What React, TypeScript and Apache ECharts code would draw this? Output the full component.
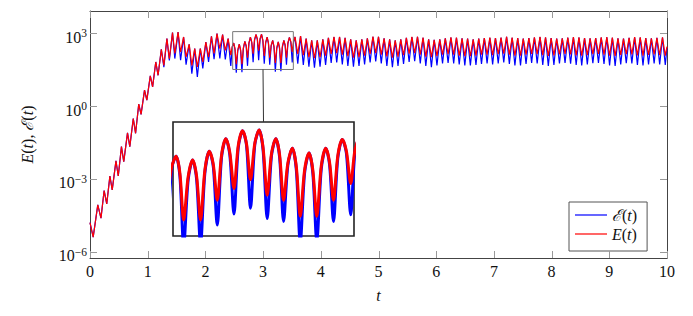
import React, { useEffect, useRef } from 'react';
import * as echarts from 'echarts';

// ---- data (log10 values) ----
const tStart = 0;
const logStart = -4.8;
const tEnd = 10;
const logEndE = 2.45;
const logEndCalE = 2.4;

const tPeaks = [
  0.135, 0.245, 0.345, 0.45, 0.545, 0.65, 0.75, 0.845, 0.945, 1.045,
  1.14, 1.236, 1.333, 1.43, 1.526, 1.622, 1.719, 1.815, 1.912, 2.008,
  2.105, 2.201, 2.298, 2.394, 2.491, 2.587, 2.684, 2.78, 2.877, 2.973,
  3.07, 3.166, 3.263, 3.36, 3.456,
  3.553, 3.649, 3.746, 3.842, 3.939, 4.035, 4.132, 4.228, 4.325, 4.421,
  4.518, 4.614, 4.711, 4.807, 4.904, 5.0, 5.097, 5.193, 5.29, 5.386,
  5.483, 5.579, 5.676, 5.772, 5.869, 5.965, 6.062, 6.158, 6.255, 6.351,
  6.448, 6.544, 6.641, 6.737, 6.834, 6.93, 7.027, 7.123, 7.22, 7.316,
  7.413, 7.509, 7.606, 7.702, 7.799, 7.895, 7.992, 8.088, 8.185, 8.281,
  8.378, 8.474, 8.571, 8.667, 8.764, 8.86, 8.957, 9.053, 9.15, 9.246,
  9.343, 9.439, 9.536, 9.632, 9.729, 9.825, 9.922,
];
const logPeaks = [
  -4.07, -3.48, -2.88, -2.26, -1.67, -1.1, -0.51, 0.08, 0.66, 1.25,
  1.82, 2.34, 2.78, 3.03, 3.05, 2.85, 2.55, 2.37, 2.37, 2.64,
  2.88, 2.99, 2.95, 2.78, 2.6, 2.55, 2.67, 2.84, 2.95, 2.96,
  2.84, 2.71, 2.645, 2.71, 2.83,
  2.85, 2.89, 2.78, 2.71, 2.71, 2.75, 2.81, 2.85, 2.85, 2.81,
  2.75, 2.71, 2.75, 2.79, 2.86, 2.86, 2.79, 2.75, 2.71, 2.75,
  2.81, 2.85, 2.86, 2.82, 2.75, 2.73, 2.75, 2.79, 2.83, 2.82,
  2.79, 2.78, 2.75, 2.78, 2.8, 2.82, 2.8, 2.82, 2.86, 2.82,
  2.8, 2.78, 2.8, 2.83, 2.85, 2.83, 2.8, 2.78, 2.79, 2.82,
  2.84, 2.83, 2.8, 2.79, 2.8, 2.83, 2.84, 2.82, 2.79, 2.78,
  2.81, 2.84, 2.83, 2.8, 2.79, 2.81, 2.83,
];
const tDips = [
  0.055, 0.19, 0.29, 0.385, 0.49, 0.585, 0.69, 0.79, 0.885, 0.985,
  1.085, 1.18, 1.28, 1.375, 1.47, 1.57, 1.665, 1.765, 1.86, 1.955,
  2.055, 2.15, 2.25, 2.345, 2.44, 2.535, 2.633, 2.73, 2.827, 2.923,
  3.02, 3.115, 3.212, 3.308, 3.405, 3.505,
  3.601, 3.697, 3.794, 3.89, 3.987, 4.083, 4.18, 4.276, 4.373, 4.469,
  4.566, 4.662, 4.759, 4.855, 4.952, 5.048, 5.145, 5.241, 5.338, 5.434,
  5.531, 5.627, 5.724, 5.82, 5.917, 6.013, 6.11, 6.206, 6.303, 6.399,
  6.496, 6.592, 6.689, 6.785, 6.882, 6.978, 7.075, 7.171, 7.268, 7.364,
  7.461, 7.557, 7.654, 7.75, 7.847, 7.943, 8.04, 8.136, 8.233, 8.329,
  8.426, 8.522, 8.619, 8.715, 8.812, 8.908, 9.005, 9.101, 9.198, 9.294,
  9.391, 9.487, 9.584, 9.68, 9.777, 9.873, 9.97,
];
const logDipsE = [
  -5.4, -4.62, -4.03, -3.45, -2.88, -2.29, -1.67, -1.12, -0.34, 0.25,
  0.79, 1.27, 1.68, 1.96, 2.17, 2.23, 2.03, 1.68, 1.62, 1.82,
  2.03, 2.17, 2.37, 2.3, 2.1, 1.73, 1.73, 2.0, 2.16, 2.28,
  2.07, 2.0, 1.78, 1.78, 2.0, 2.23,
  2.15, 2.1, 2.02, 1.98, 2.02, 2.08, 2.15, 2.18, 2.12, 2.06,
  2.0, 2.02, 2.08, 2.15, 2.18, 2.12, 2.05, 2.0, 2.04, 2.1,
  2.16, 2.18, 2.12, 2.04, 2.02, 2.06, 2.12, 2.14, 2.12, 2.08,
  2.06, 2.06, 2.08, 2.12, 2.12, 2.1, 2.14, 2.16, 2.12, 2.08,
  2.08, 2.12, 2.15, 2.14, 2.1, 2.07, 2.09, 2.13, 2.15, 2.13,
  2.09, 2.08, 2.1, 2.14, 2.15, 2.12, 2.08, 2.07, 2.11, 2.14,
  2.13, 2.09, 2.08, 2.11, 2.13, 2.1, 2.08,
];
const logDipsCalE = [
  -5.4, -4.62, -4.03, -3.45, -2.88, -2.29, -1.67, -1.12, -0.34, 0.25,
  0.79, 1.27, 1.6, 1.88, 1.96, 1.89, 1.71, 1.34, 1.2, 1.55,
  1.82, 1.93, 1.96, 1.92, 1.66, 1.38, 1.4, 1.66, 1.81, 1.89,
  1.75, 1.71, 1.42, 1.44, 1.71, 1.8,
  1.75, 1.7, 1.62, 1.58, 1.62, 1.7, 1.78, 1.8, 1.72, 1.66,
  1.62, 1.66, 1.72, 1.8, 1.84, 1.76, 1.66, 1.6, 1.66, 1.74,
  1.82, 1.85, 1.76, 1.66, 1.6, 1.68, 1.76, 1.78, 1.76, 1.72,
  1.68, 1.68, 1.7, 1.74, 1.76, 1.72, 1.76, 1.8, 1.74, 1.68,
  1.68, 1.74, 1.78, 1.76, 1.7, 1.66, 1.7, 1.76, 1.78, 1.75,
  1.7, 1.68, 1.72, 1.77, 1.78, 1.74, 1.68, 1.66, 1.72, 1.77,
  1.76, 1.7, 1.68, 1.72, 1.76, 1.72, 1.7,
];
// shoulder points of the arches
const tShoulders = [
  2.466, 2.513, 2.561, 2.61, 2.658, 2.707, 2.755, 2.803, 2.852, 2.9,
  2.948, 2.996, 3.045, 3.092, 3.14, 3.189, 3.237, 3.285, 3.334, 3.382,
  3.43, 3.48, 3.529,
];
const logShouldersE = [
  2.46, 2.37, 2.32, 2.33, 2.41, 2.49, 2.62, 2.65, 2.75, 2.77,
  2.78, 2.72, 2.64, 2.62, 2.51, 2.46, 2.41, 2.41, 2.47, 2.52,
  2.61, 2.67, 2.68,
];
const logShouldersCalE = [
  2.44, 2.33, 2.28, 2.29, 2.37, 2.46, 2.59, 2.62, 2.72, 2.75,
  2.76, 2.69, 2.61, 2.59, 2.48, 2.42, 2.37, 2.37, 2.43, 2.49,
  2.58, 2.64, 2.65,
];

const xTickValues = [0, 1, 2, 3, 4, 5, 6, 7, 8, 9, 10];
const yTickExps = [-6, -3, 0, 3];
const yRange = [-6.26, 3.92];
const insetT = [2.473, 3.524];
const insetLog = [1.51, 3.07];

const nameCalE = 'ℰ(t)';
const nameE = 'E(t)';

function buildSeries(dips: number[], shoulders: number[], endVal: number): [number, number][] {
  const pts: [number, number][] = [[tStart, logStart]];
  for (let i = 0; i < tDips.length; i++) {
    pts.push([tDips[i], dips[i]]);
    if (i < tPeaks.length) pts.push([tPeaks[i], logPeaks[i]]);
  }
  for (let i = 0; i < tShoulders.length; i++) pts.push([tShoulders[i], shoulders[i]]);
  pts.push([tEnd, endVal]);
  pts.sort((p, q) => p[0] - q[0]);
  return pts;
}

const FONT = "'Liberation Serif', 'DejaVu Serif', serif";
const FS = 16;

export default function App() {
  const ref = useRef<HTMLDivElement>(null);
  useEffect(() => {
    if (!ref.current) return;
    const chart = echarts.init(ref.current, undefined, { renderer: 'svg' });
    const dataCalE = buildSeries(logDipsCalE, logShouldersCalE, logEndCalE);
    const dataE = buildSeries(logDipsE, logShouldersE, logEndE);
    const supFmt = (v: number) => `{b|10}{s|${v < 0 ? '−' : ''}${Math.abs(v)}}`;
    const rich = {
      b: { fontFamily: FONT, fontSize: FS, color: '#111', lineHeight: 18, verticalAlign: 'bottom' },
      s: { fontFamily: FONT, fontSize: 11.5, color: '#111', lineHeight: 9, verticalAlign: 'top' },
    };
    const mathRich = {
      i: { fontFamily: FONT, fontStyle: 'italic', fontSize: FS, color: '#111', lineHeight: 18 },
      r: { fontFamily: FONT, fontSize: FS, color: '#111', lineHeight: 18 },
    };
    const frameLine = { show: true, onZero: false, lineStyle: { color: '#444', width: 1 } };
    const option: any = {
      animation: false,
      backgroundColor: '#fff',
      grid: [
        { left: 90, right: 26, top: 11, bottom: 58, show: false },
        { left: 173, top: 122, width: 181, height: 114, show: true, borderColor: '#222', borderWidth: 1.6, backgroundColor: '#fff', z: 5 },
      ],
      legend: {
        left: 569, top: 202, orient: 'vertical',
        data: [nameCalE, nameE],
        icon: 'rect',
        itemWidth: 32, itemHeight: 1.2, itemGap: 3,
        padding: [5, 10, 9, 6],
        borderColor: '#555', borderWidth: 1, backgroundColor: '#fff',
        formatter: (n: string) => (n === nameCalE ? '{i|ℰ}{r|(}{i|t}{r|)}' : '{i|E}{r|(}{i|t}{r|)}'),
        textStyle: { rich: mathRich, fontFamily: FONT, fontSize: FS },
      },
      xAxis: [
        {
          type: 'value', gridIndex: 0, position: 'bottom', min: xTickValues[0], max: xTickValues[xTickValues.length - 1], interval: 1,
          axisLine: frameLine, splitLine: { show: false }, axisTick: { show: false },
          axisLabel: { margin: 5, fontFamily: FONT, fontSize: FS, color: '#111' },
          name: 't', nameLocation: 'middle', nameGap: 29,
          nameTextStyle: { fontFamily: FONT, fontStyle: 'italic', fontSize: FS, color: '#111' },
        },
        {
          type: 'value', gridIndex: 0, position: 'top', min: xTickValues[0], max: xTickValues[xTickValues.length - 1], interval: 1,
          axisLine: frameLine, splitLine: { show: false }, axisTick: { show: false }, axisLabel: { show: false },
        },
        { type: 'value', gridIndex: 1, min: insetT[0], max: insetT[1], show: false },
      ],
      yAxis: [
        {
          type: 'value', gridIndex: 0, position: 'left', min: yRange[0], max: yRange[1],
          axisLine: frameLine, splitLine: { show: false }, axisTick: { show: false },
          axisLabel: { margin: 3, padding: [6, 0, 0, 0], customValues: yTickExps, formatter: supFmt, rich },
          name: '{i|E}{r|(}{i|t}{r|)}{r|, }{i|ℰ}{r|(}{i|t}{r|)}', nameLocation: 'middle', nameGap: 54, nameRotate: 90,
          nameTextStyle: { rich: mathRich, fontFamily: FONT, fontSize: FS },
        },
        {
          type: 'value', gridIndex: 0, position: 'right', min: yRange[0], max: yRange[1],
          axisLine: frameLine, splitLine: { show: false }, axisTick: { show: false }, axisLabel: { show: false },
        },
        { type: 'value', gridIndex: 1, min: insetLog[0], max: insetLog[1], show: false },
      ],
      series: [
        { name: nameCalE, type: 'line', xAxisIndex: 0, yAxisIndex: 0, data: dataCalE, symbol: 'none', lineStyle: { color: '#0000ff', width: 1.2 }, itemStyle: { color: '#0000ff' } },
        { name: nameE, type: 'line', xAxisIndex: 0, yAxisIndex: 0, data: dataE, symbol: 'none', lineStyle: { color: '#ff0000', width: 1.2 }, itemStyle: { color: '#ff0000' } },
        { name: nameCalE, type: 'line', xAxisIndex: 2, yAxisIndex: 2, data: dataCalE, symbol: 'none', smooth: 0.3, clip: true, z: 6, lineStyle: { color: '#0000ff', width: 3 }, itemStyle: { color: '#0000ff' } },
        { name: nameE, type: 'line', xAxisIndex: 2, yAxisIndex: 2, data: dataE, symbol: 'none', smooth: 0.3, clip: true, z: 7, lineStyle: { color: '#ff0000', width: 3 }, itemStyle: { color: '#ff0000' } },
      ],
    };
    chart.setOption(option);
    const main = { xAxisIndex: 0, yAxisIndex: 0 } as any;
    const px = (x: number, y: number) => chart.convertToPixel(main, [x, y]) as number[];
    const a = px(insetT[0], insetLog[1]);
    const b = px(insetT[1], insetLog[0]);
    const c = chart.convertToPixel({ xAxisIndex: 2, yAxisIndex: 2 } as any, [(insetT[0] + insetT[1]) / 2, insetLog[1]]) as number[];
    const midX = (a[0] + b[0]) / 2;
    const TL = 7;
    const tickStyle = { stroke: '#999', lineWidth: 1 };
    const ticks: any[] = [];
    xTickValues.forEach((v) => {
      const p0 = px(v, yRange[0]);
      const p1 = px(v, yRange[1]);
      const x = Math.round(p0[0]) + 0.5;
      ticks.push({ type: 'line', shape: { x1: x, y1: p0[1], x2: x, y2: p0[1] - TL }, style: tickStyle, z: 9, silent: true });
      ticks.push({ type: 'line', shape: { x1: x, y1: p1[1], x2: x, y2: p1[1] + TL }, style: tickStyle, z: 9, silent: true });
    });
    yTickExps.forEach((v) => {
      const p0 = px(xTickValues[0], v);
      const p1 = px(xTickValues[xTickValues.length - 1], v);
      const y = Math.round(p0[1]) + 0.5;
      ticks.push({ type: 'line', shape: { x1: p0[0], y1: y, x2: p0[0] + TL, y2: y }, style: tickStyle, z: 9, silent: true });
      ticks.push({ type: 'line', shape: { x1: p1[0], y1: y, x2: p1[0] - TL, y2: y }, style: tickStyle, z: 9, silent: true });
    });
    chart.setOption({
      graphic: [
        ...ticks,
        { type: 'rect', shape: { x: a[0], y: a[1], width: b[0] - a[0], height: b[1] - a[1] }, style: { fill: 'none', stroke: '#777', lineWidth: 1 }, z: 10 },
        { type: 'line', shape: { x1: midX, y1: b[1], x2: c[0], y2: c[1] }, style: { stroke: '#333', lineWidth: 1 }, z: 10 },
      ],
    });
    return () => chart.dispose();
  }, []);
  return <div ref={ref} style={{ position: 'fixed', left: 0, top: 0, width: 693, height: 316 }} />;
}
